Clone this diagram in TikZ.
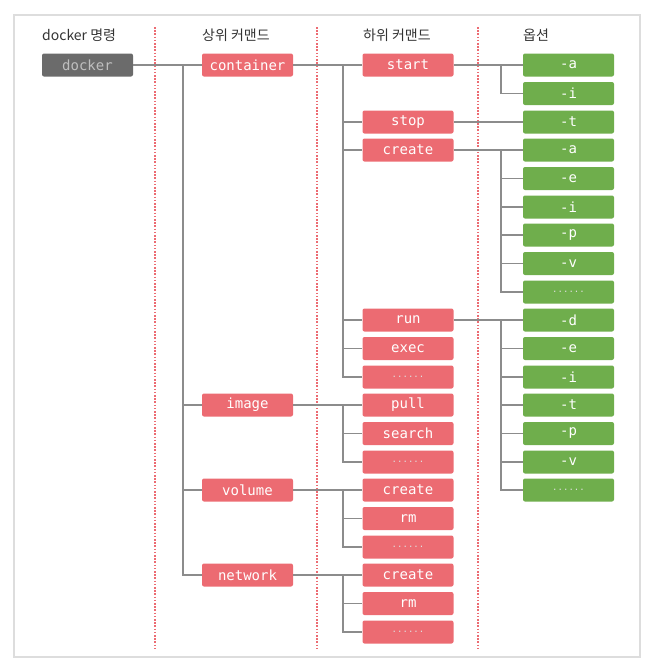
\documentclass[tikz,border=0pt]{standalone}
\usepackage{fontspec}
\setmonofont{DejaVu Sans Mono}
\newfontfamily\krfont{Noto Sans CJK KR}
\usetikzlibrary{positioning}

\definecolor{cmdgray}{HTML}{6B6B6B}
\definecolor{cmdred}{HTML}{EC6B72}
\definecolor{cmdgreen}{HTML}{6FAE4C}
\definecolor{linkgray}{HTML}{8C8C8C}
\definecolor{framegray}{HTML}{DDDDDD}

\begin{document}
\begin{tikzpicture}[
    x=1pt, y=-1pt,
    box/.style={rectangle, rounded corners=2pt, minimum width=91pt, minimum height=23pt, inner sep=0pt, font=\ttfamily\fontsize{14}{14}\selectfont, text=white},
    root/.style={box, fill=cmdgray, text=black!25},
    upper/.style={box, fill=cmdred},
    lower/.style={box, fill=cmdred},
    option/.style={box, fill=cmdgreen},
    more/.style={font=\ttfamily\fontsize{9}{9}\selectfont, text=white!75!gray},
    heading/.style={anchor=west, inner sep=0pt, font=\krfont\fontsize{14}{15}\selectfont, text=black!80},
    link/.style={draw=linkgray, line width=1.4pt},
    divider/.style={draw=cmdred, line width=2.4pt, dash pattern=on 1.6pt off 1.6pt}
]
\useasboundingbox (0,0) rectangle (650,665);

% Frame and column dividers
\draw[framegray, line width=1.5pt] (14,15) rectangle (640,657);
\draw[divider] (155,27) -- (155,648);
\draw[divider] (317,27) -- (317,648);
\draw[divider] (478,27) -- (478,648);

% Column headings
\node[heading] (hcmd) at (42,35) {docker 명령};
\node[heading] (hupper) at (202,35) {상위 커맨드};
\node[heading] (hlower) at (363,35) {하위 커맨드};
\node[heading] (hoption) at (523,35) {옵션};

% docker command
\node[root] (docker) at (87.5,65) {docker};

% Upper commands
\node[upper] (container) at (247.5,65) {container};
\node[upper] (image) at (247.5,405) {image};
\node[upper] (volume) at (247.5,490) {volume};
\node[upper] (network) at (247.5,575) {network};

% Lower commands
\node[lower] (start) at (408,65) {start};
\node[lower] (stop) at (408,122) {stop};
\node[lower] (ccreate) at (408,150) {create};
\node[lower] (run) at (408,320) {run};
\node[lower] (exec) at (408,348.5) {exec};
\node[lower, more] (cmore) at (408,377) {......};
\node[lower] (pull) at (408,405) {pull};
\node[lower] (search) at (408,433.5) {search};
\node[lower, more] (imore) at (408,462) {......};
\node[lower] (vcreate) at (408,490) {create};
\node[lower] (vrm) at (408,518.5) {rm};
\node[lower, more] (vmore) at (408,547) {......};
\node[lower] (ncreate) at (408,575) {create};
\node[lower] (nrm) at (408,603.5) {rm};
\node[lower, more] (nmore) at (408,632) {......};

% Options
\node[option] (starta) at (568.5,65) {-a};
\node[option] (starti) at (568.5,93.5) {-i};
\node[option] (stopt) at (568.5,122) {-t};
\node[option] (createa) at (568.5,150) {-a};
\node[option] (createe) at (568.5,178.5) {-e};
\node[option] (createi) at (568.5,207) {-i};
\node[option] (createp) at (568.5,235) {-p};
\node[option] (createv) at (568.5,263.5) {-v};
\node[option, more] (createmore) at (568.5,292) {......};
\node[option] (rund) at (568.5,320) {-d};
\node[option] (rune) at (568.5,348.5) {-e};
\node[option] (runi) at (568.5,377) {-i};
\node[option] (runt) at (568.5,405) {-t};
\node[option] (runp) at (568.5,433.5) {-p};
\node[option] (runv) at (568.5,462) {-v};
\node[option, more] (runmore) at (568.5,490) {......};

% Trunk points
\coordinate (uppertrunk) at (183,65);
\coordinate (ctrunk) at (343,65);
\coordinate (itrunk) at (343,405);
\coordinate (vtrunk) at (343,490);
\coordinate (ntrunk) at (343,575);
\coordinate (starttrunk) at (501,65);
\coordinate (createtrunk) at (501,150);
\coordinate (runtrunk) at (501,320);

% docker -> upper commands
\draw[link] (docker) -- (container);
\draw[link] (uppertrunk) |- (network.west);
\draw[link] (uppertrunk |- image.west) -- (image.west);
\draw[link] (uppertrunk |- volume.west) -- (volume.west);

% upper -> lower commands
\draw[link] (container) -- (start);
\draw[link] (ctrunk) |- (cmore.west);
\foreach \n in {stop, ccreate, run, exec}
  \draw[link] (ctrunk |- \n.west) -- (\n.west);
\draw[link] (image) -- (pull);
\draw[link] (itrunk) |- (imore.west);
\draw[link] (itrunk |- search.west) -- (search.west);
\draw[link] (volume) -- (vcreate);
\draw[link] (vtrunk) |- (vmore.west);
\draw[link] (vtrunk |- vrm.west) -- (vrm.west);
\draw[link] (network) -- (ncreate);
\draw[link] (ntrunk) |- (nmore.west);
\draw[link] (ntrunk |- nrm.west) -- (nrm.west);

% lower commands -> options
\draw[link] (start) -- (starta);
\draw[link] (starttrunk) |- (starti.west);
\draw[link] (stop) -- (stopt);
\draw[link] (ccreate) -- (createa);
\draw[link] (createtrunk) |- (createmore.west);
\foreach \n in {createe, createi, createp, createv}
  \draw[link] (createtrunk |- \n.west) -- (\n.west);
\draw[link] (run) -- (rund);
\draw[link] (runtrunk) |- (runmore.west);
\foreach \n in {rune, runi, runt, runp, runv}
  \draw[link] (runtrunk |- \n.west) -- (\n.west);

\end{tikzpicture}
\end{document}
